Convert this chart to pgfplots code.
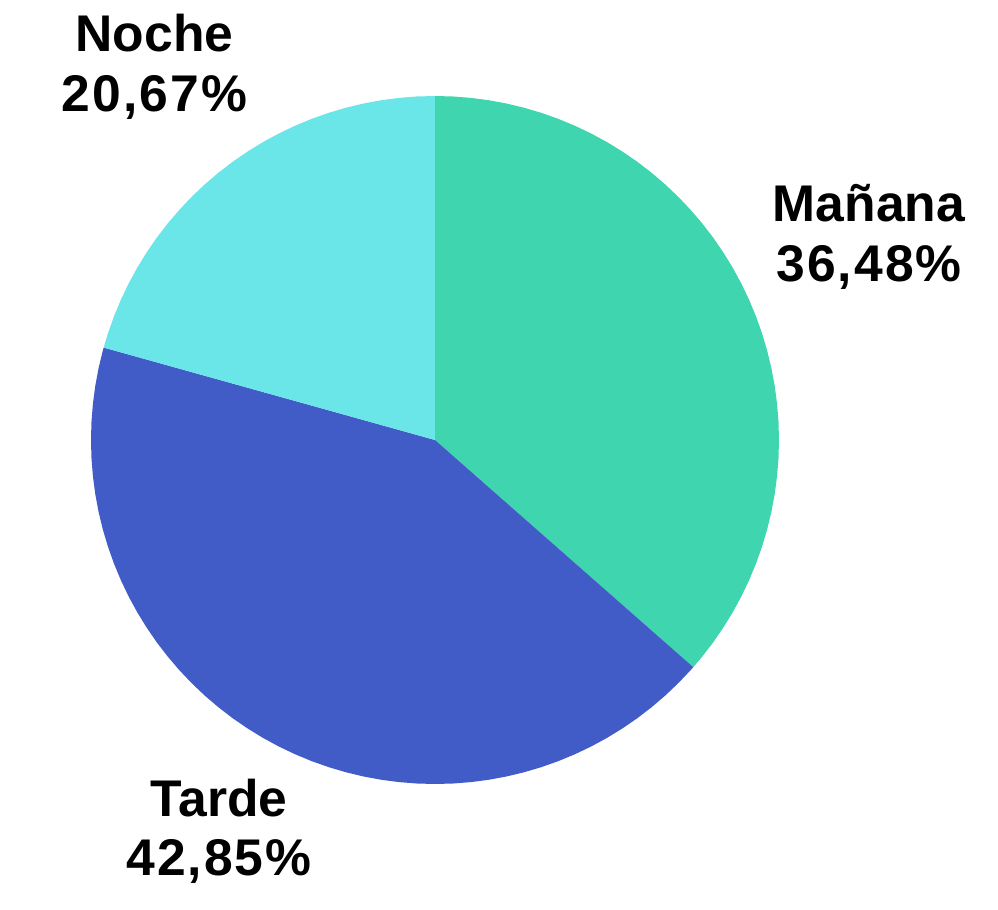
\documentclass[border=0pt]{standalone}
\usepackage{pgfplots}
\pgfplotsset{compat=1.18}
\usepgfplotslibrary{polar}
\usepackage{fontspec}
\setmainfont{Liberation Sans}
\newfontfamily\pctfont[LetterSpace=4]{Liberation Sans}
\definecolor{manana}{HTML}{3FD5AE}
\definecolor{tarde}{HTML}{425CC7}
\definecolor{noche}{HTML}{6AE5E8}
% Shares: Mañana 36.48, Tarde 42.85, Noche 20.67 (percent)
% Slices start at 90 deg and run clockwise: 90 -> -41.33 -> -195.59 -> -270
\begin{document}
\begin{tikzpicture}
\useasboundingbox (-217.5pt,-235pt) rectangle (281.5pt,220pt);
\begin{polaraxis}[
  at={(0pt,0pt)}, anchor=origin,
  width=344pt, scale only axis,
  ymin=0, ymax=1,
  hide axis, clip=false,
]
\addplot[draw=none, fill=manana] coordinates {(0,0) (90,1) (87,1) (84,1) (81,1) (78,1) (75,1) (72,1) (69,1) (66,1) (63,1) (60,1) (57,1) (54,1) (51,1) (48,1) (45,1) (42,1) (39,1) (36,1) (33,1) (30,1) (27,1) (24,1) (21,1) (18,1) (15,1) (12,1) (9,1) (6,1) (3,1) (0,1) (-3,1) (-6,1) (-9,1) (-12,1) (-15,1) (-18,1) (-21,1) (-24,1) (-27,1) (-30,1) (-33,1) (-36,1) (-39,1) (-41.33,1) (0,0)} -- cycle;
\addplot[draw=none, fill=tarde] coordinates {(0,0) (-41.33,1) (-42,1) (-45,1) (-48,1) (-51,1) (-54,1) (-57,1) (-60,1) (-63,1) (-66,1) (-69,1) (-72,1) (-75,1) (-78,1) (-81,1) (-84,1) (-87,1) (-90,1) (-93,1) (-96,1) (-99,1) (-102,1) (-105,1) (-108,1) (-111,1) (-114,1) (-117,1) (-120,1) (-123,1) (-126,1) (-129,1) (-132,1) (-135,1) (-138,1) (-141,1) (-144,1) (-147,1) (-150,1) (-153,1) (-156,1) (-159,1) (-162,1) (-165,1) (-168,1) (-171,1) (-174,1) (-177,1) (-180,1) (-183,1) (-186,1) (-189,1) (-192,1) (-195,1) (-195.59,1) (0,0)} -- cycle;
\addplot[draw=none, fill=noche] coordinates {(0,0) (-195.59,1) (-198,1) (-201,1) (-204,1) (-207,1) (-210,1) (-213,1) (-216,1) (-219,1) (-222,1) (-225,1) (-228,1) (-231,1) (-234,1) (-237,1) (-240,1) (-243,1) (-246,1) (-249,1) (-252,1) (-255,1) (-258,1) (-261,1) (-264,1) (-267,1) (-270,1) (0,0)} -- cycle;
\end{polaraxis}
\begin{scope}[every node/.style={font=\fontsize{25.8pt}{30pt}\selectfont\bfseries, anchor=base, inner sep=0pt}]
\node at (-140.25pt,194pt) {Noche};
\node at (-140.25pt,164pt) {\pctfont\bfseries 20,67\%};
\node at (217pt,109pt) {Mañana};
\node at (217pt,79pt) {\pctfont\bfseries 36,48\%};
\node at (-108pt,-188.5pt) {Tarde};
\node at (-108pt,-218pt) {\pctfont\bfseries 42,85\%};
\end{scope}
\end{tikzpicture}
\end{document}
